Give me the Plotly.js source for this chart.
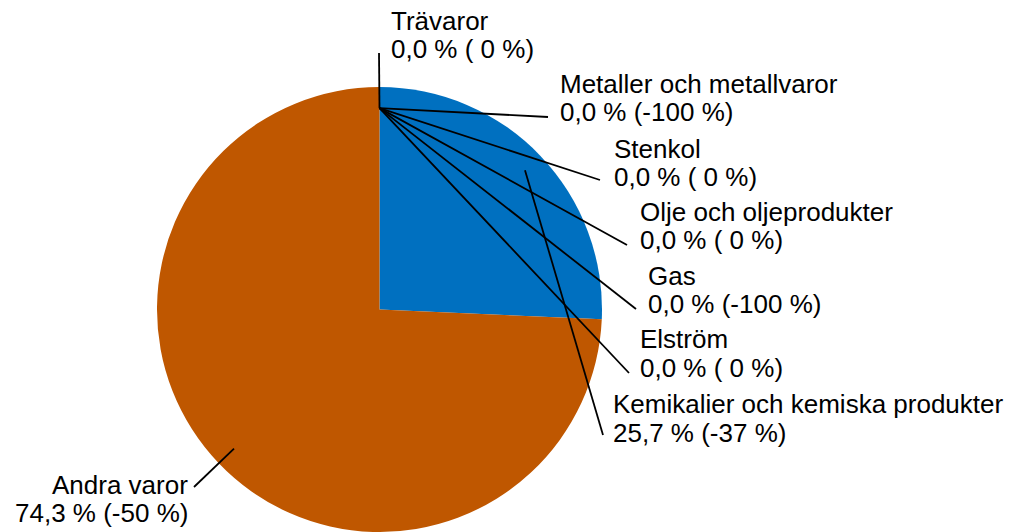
<!DOCTYPE html>
<html>
<head>
<meta charset="utf-8">
<script src="https://cdn.plot.ly/plotly-3.0.1.min.js"></script>
<style>html,body{margin:0;padding:0;background:#fff;}#chart{width:1013px;height:532px;}</style>
</head>
<body>
<div id="chart"></div>
<script>
// ---- data ----
const categories = ['Trävaror', 'Metaller och metallvaror', 'Stenkol', 'Olje och oljeprodukter', 'Gas', 'Elström', 'Kemikalier och kemiska produkter', 'Andra varor'];
const shares = [0, 0, 0, 0, 0, 0, 25.7, 74.3];
const changes = [0, -100, 0, 0, -100, 0, -37, -50];
const colors = ['#7f7f7f', '#7f7f7f', '#7f7f7f', '#7f7f7f', '#7f7f7f', '#7f7f7f', '#0070C0', '#BF5700'];

// ---- layout (pixel positions of labels and leader-line ends) ----
const W = 1013, H = 532;
const cx = 379.5, cy = 309.5, R = 222.5;
const labelPos = [
  {x: 391, b1: 30,  b2: 58,  anchor: 'left',  ex: 379, ey: 53},
  {x: 560, b1: 93,  b2: 121, anchor: 'left',  ex: 548, ey: 117},
  {x: 614, b1: 158, b2: 186, anchor: 'left',  ex: 600, ey: 180},
  {x: 640, b1: 221, b2: 249, anchor: 'left',  ex: 627, ey: 245},
  {x: 648, b1: 285, b2: 313, anchor: 'left',  ex: 636, ey: 309},
  {x: 640, b1: 348, b2: 377, anchor: 'left',  ex: 629, ey: 373},
  {x: 613, b1: 413, b2: 442, anchor: 'left',  ex: 603, ey: 435},
  {x: 188, b1: 494, b2: 522, anchor: 'right', ex: 194, ey: 487}
];
const FS = 26;
const font = {family: 'Liberation Sans, Arial, sans-serif', size: FS, color: '#000'};

const px = x => x / W;
const py = y => 1 - y / H;

function fmtShare(v) { return v.toFixed(1).replace('.', ',') + ' %'; }
function fmtChange(v) { return '(' + (v < 0 ? '-' + Math.abs(v) : ' ' + v) + ' %)'; }

const total = shares.reduce((a, b) => a + b, 0);
const annotations = [];
const shapes = [];
let cum = 0;
categories.forEach((c, i) => {
  const mid = (cum + shares[i] / 2) / total * 2 * Math.PI;
  cum += shares[i];
  const sx = cx + 0.905 * R * Math.sin(mid);
  const sy = cy - 0.905 * R * Math.cos(mid);
  const p = labelPos[i];
  shapes.push({type: 'line', xref: 'paper', yref: 'paper',
    x0: px(sx), y0: py(sy), x1: px(p.ex), y1: py(p.ey),
    line: {color: '#000', width: 1.8}});
  const off = FS * 0.3465;
  [[c, p.b1], [fmtShare(shares[i]) + ' ' + fmtChange(changes[i]), p.b2]].forEach(([t, b]) => {
    annotations.push({text: t, xref: 'paper', yref: 'paper', x: px(p.x), y: py(b - off),
      xanchor: p.anchor, yanchor: 'middle', showarrow: false, font: font,
      borderpad: 0, borderwidth: 0, align: p.anchor});
  });
});

const trace = {
  type: 'pie',
  labels: categories,
  values: shares,
  sort: false,
  direction: 'clockwise',
  rotation: 0,
  textinfo: 'none',
  hoverinfo: 'none',
  marker: {colors: colors, line: {width: 0}},
  domain: {x: [(cx - R) / W, (cx + R) / W], y: [1 - (cy + R) / H, 1 - (cy - R) / H]},
  showlegend: false
};

Plotly.newPlot('chart', [trace], {
  width: W, height: H,
  margin: {l: 0, r: 0, t: 0, b: 0},
  paper_bgcolor: '#fff',
  showlegend: false,
  annotations: annotations,
  shapes: shapes
}, {staticPlot: true});
</script>
</body>
</html>
